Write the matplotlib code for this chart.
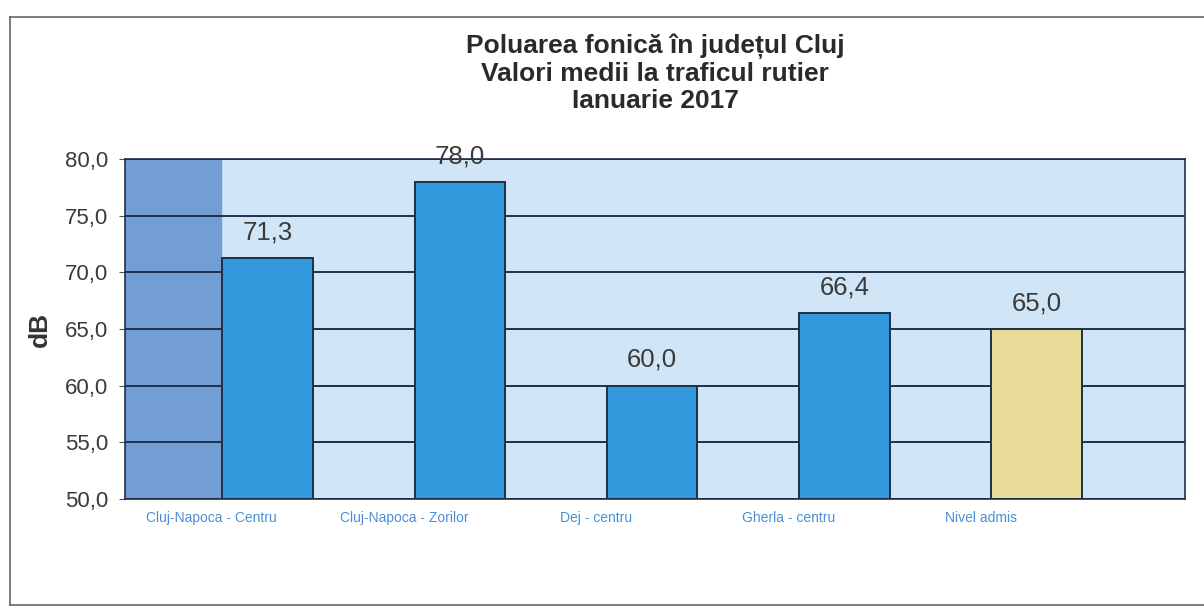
import numpy as np
import matplotlib.pyplot as plt
from matplotlib.lines import Line2D

plt.rcParams['font.family'] = ['Liberation Sans', 'DejaVu Sans']

# Data
locatii = ['Cluj-Napoca - Centru', 'Cluj-Napoca - Zorilor', 'Dej - centru',
           'Gherla - centru', 'Nivel admis']
valori = [71.3, 78.0, 60.0, 66.4, 65.0]
culori = ['#3399dd', '#3399dd', '#3399dd', '#3399dd', '#e9dc98']
y_ticks = [50, 55, 60, 65, 70, 75, 80]

fig = plt.figure(figsize=(12.04, 6.12), dpi=100)
ax = fig.add_axes([0.104, 0.185, 0.88, 0.555])

x = np.arange(len(locatii))
ax.set_xlim(-0.74, 4.77)
ax.set_ylim(50, 80)

# background: darker strip on the left, light blue elsewhere
ax.set_facecolor('#d0e6f6')
ax.axvspan(-0.74, -0.24, color='#739ed4', zorder=0)

# gridlines
for t in y_ticks:
    ax.axhline(t, color='#1f3048', lw=1.4, zorder=1)

ax.bar(x, [v - 50 for v in valori], bottom=50, width=0.47,
       color=culori, edgecolor='#1f3048', lw=1.4, zorder=2)

for xi, v in zip(x, valori):
    ax.text(xi, v + 1.2, f'{v:.1f}'.replace('.', ','), ha='center', va='bottom',
            fontsize=18.5, color='#3a3a3a', zorder=3, clip_on=False)

ax.set_yticks(y_ticks)
ax.set_yticklabels([f'{t:.1f}'.replace('.', ',') for t in y_ticks],
                   fontsize=16, color='#3a3a3a')
# category labels sit left of the bar centres, as in the original
ax.set_xticks(x - 0.29)
ax.set_xticklabels(locatii, fontsize=10, color='#4a8fd6')
ax.tick_params(axis='x', length=0, pad=9)
ax.tick_params(axis='y', length=4, color='#555555', pad=8)
ax.set_ylabel('dB', fontsize=19, fontweight='bold', color='#333333', labelpad=10)

for s in ax.spines.values():
    s.set_color('#1f3048')
    s.set_linewidth(1.2)

fig.text(0.544, 0.945, 'Poluarea fonică în județul Cluj\nValori medii la traficul rutier\nIanuarie 2017',
         ha='center', va='top', fontsize=19, fontweight='bold', color='#2a2a2a',
         linespacing=1.15)

# outer chart border (left, top, bottom; the right edge falls outside the scan)
for xs, ys in [([0.008, 0.008], [0.012, 0.972]),
               ([0.008, 1.0], [0.972, 0.972]),
               ([0.008, 1.0], [0.012, 0.012])]:
    fig.lines.append(Line2D(xs, ys, transform=fig.transFigure,
                            color='#666666', lw=1.2))

fig.savefig('out.png', dpi=100, facecolor='white')
